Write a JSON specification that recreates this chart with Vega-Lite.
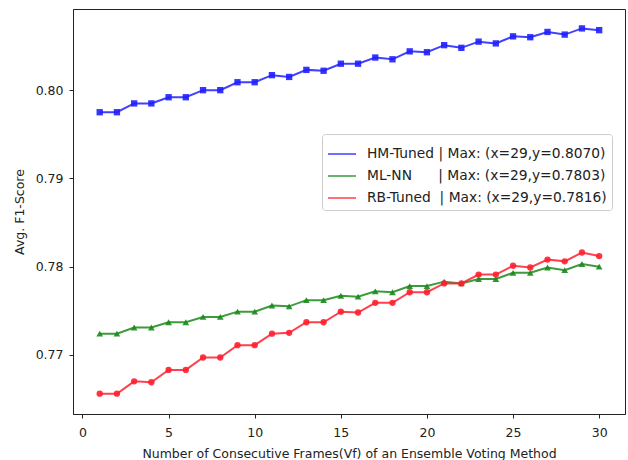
{
  "$schema": "https://vega.github.io/schema/vega-lite/v6.json",
  "width": 552,
  "height": 405,
  "autosize": "none",
  "padding": {"left": 73, "top": 9, "right": 3, "bottom": 46},
  "background": "white",
  "config": {
    "font": "DejaVu Sans",
    "view": {"stroke": "#222", "strokeWidth": 1},
    "axis": {
      "grid": false,
      "domainColor": "#222",
      "tickColor": "#222",
      "tickSize": 4,
      "labelColor": "#222",
      "titleColor": "#222",
      "labelFontSize": 12.5,
      "titleFontSize": 12.5,
      "titleFontWeight": "normal"
    }
  },
  "datasets": {
    "scores": [
      {"frames": 1, "series": "HM-Tuned", "f1": 0.7975},
      {"frames": 2, "series": "HM-Tuned", "f1": 0.7975},
      {"frames": 3, "series": "HM-Tuned", "f1": 0.7985},
      {"frames": 4, "series": "HM-Tuned", "f1": 0.7985},
      {"frames": 5, "series": "HM-Tuned", "f1": 0.7992},
      {"frames": 6, "series": "HM-Tuned", "f1": 0.7992},
      {"frames": 7, "series": "HM-Tuned", "f1": 0.8000},
      {"frames": 8, "series": "HM-Tuned", "f1": 0.8000},
      {"frames": 9, "series": "HM-Tuned", "f1": 0.8009},
      {"frames": 10, "series": "HM-Tuned", "f1": 0.8009},
      {"frames": 11, "series": "HM-Tuned", "f1": 0.8017},
      {"frames": 12, "series": "HM-Tuned", "f1": 0.8015},
      {"frames": 13, "series": "HM-Tuned", "f1": 0.8023},
      {"frames": 14, "series": "HM-Tuned", "f1": 0.8022},
      {"frames": 15, "series": "HM-Tuned", "f1": 0.8030},
      {"frames": 16, "series": "HM-Tuned", "f1": 0.8030},
      {"frames": 17, "series": "HM-Tuned", "f1": 0.8037},
      {"frames": 18, "series": "HM-Tuned", "f1": 0.8035},
      {"frames": 19, "series": "HM-Tuned", "f1": 0.8044},
      {"frames": 20, "series": "HM-Tuned", "f1": 0.8043},
      {"frames": 21, "series": "HM-Tuned", "f1": 0.8051},
      {"frames": 22, "series": "HM-Tuned", "f1": 0.8048},
      {"frames": 23, "series": "HM-Tuned", "f1": 0.8055},
      {"frames": 24, "series": "HM-Tuned", "f1": 0.8053},
      {"frames": 25, "series": "HM-Tuned", "f1": 0.8061},
      {"frames": 26, "series": "HM-Tuned", "f1": 0.8060},
      {"frames": 27, "series": "HM-Tuned", "f1": 0.8066},
      {"frames": 28, "series": "HM-Tuned", "f1": 0.8063},
      {"frames": 29, "series": "HM-Tuned", "f1": 0.8070},
      {"frames": 30, "series": "HM-Tuned", "f1": 0.8068},
      {"frames": 1, "series": "ML-NN", "f1": 0.7724},
      {"frames": 2, "series": "ML-NN", "f1": 0.7724},
      {"frames": 3, "series": "ML-NN", "f1": 0.7731},
      {"frames": 4, "series": "ML-NN", "f1": 0.7731},
      {"frames": 5, "series": "ML-NN", "f1": 0.7737},
      {"frames": 6, "series": "ML-NN", "f1": 0.7737},
      {"frames": 7, "series": "ML-NN", "f1": 0.7743},
      {"frames": 8, "series": "ML-NN", "f1": 0.7743},
      {"frames": 9, "series": "ML-NN", "f1": 0.7749},
      {"frames": 10, "series": "ML-NN", "f1": 0.7749},
      {"frames": 11, "series": "ML-NN", "f1": 0.7756},
      {"frames": 12, "series": "ML-NN", "f1": 0.7755},
      {"frames": 13, "series": "ML-NN", "f1": 0.7762},
      {"frames": 14, "series": "ML-NN", "f1": 0.7762},
      {"frames": 15, "series": "ML-NN", "f1": 0.7767},
      {"frames": 16, "series": "ML-NN", "f1": 0.7766},
      {"frames": 17, "series": "ML-NN", "f1": 0.7772},
      {"frames": 18, "series": "ML-NN", "f1": 0.7771},
      {"frames": 19, "series": "ML-NN", "f1": 0.7778},
      {"frames": 20, "series": "ML-NN", "f1": 0.7778},
      {"frames": 21, "series": "ML-NN", "f1": 0.7783},
      {"frames": 22, "series": "ML-NN", "f1": 0.7781},
      {"frames": 23, "series": "ML-NN", "f1": 0.7786},
      {"frames": 24, "series": "ML-NN", "f1": 0.7786},
      {"frames": 25, "series": "ML-NN", "f1": 0.7793},
      {"frames": 26, "series": "ML-NN", "f1": 0.7793},
      {"frames": 27, "series": "ML-NN", "f1": 0.7799},
      {"frames": 28, "series": "ML-NN", "f1": 0.7796},
      {"frames": 29, "series": "ML-NN", "f1": 0.7803},
      {"frames": 30, "series": "ML-NN", "f1": 0.7800},
      {"frames": 1, "series": "RB-Tuned", "f1": 0.7656},
      {"frames": 2, "series": "RB-Tuned", "f1": 0.7656},
      {"frames": 3, "series": "RB-Tuned", "f1": 0.7670},
      {"frames": 4, "series": "RB-Tuned", "f1": 0.7669},
      {"frames": 5, "series": "RB-Tuned", "f1": 0.7683},
      {"frames": 6, "series": "RB-Tuned", "f1": 0.7683},
      {"frames": 7, "series": "RB-Tuned", "f1": 0.7697},
      {"frames": 8, "series": "RB-Tuned", "f1": 0.7697},
      {"frames": 9, "series": "RB-Tuned", "f1": 0.7711},
      {"frames": 10, "series": "RB-Tuned", "f1": 0.7711},
      {"frames": 11, "series": "RB-Tuned", "f1": 0.7724},
      {"frames": 12, "series": "RB-Tuned", "f1": 0.7725},
      {"frames": 13, "series": "RB-Tuned", "f1": 0.7737},
      {"frames": 14, "series": "RB-Tuned", "f1": 0.7737},
      {"frames": 15, "series": "RB-Tuned", "f1": 0.7749},
      {"frames": 16, "series": "RB-Tuned", "f1": 0.7748},
      {"frames": 17, "series": "RB-Tuned", "f1": 0.7759},
      {"frames": 18, "series": "RB-Tuned", "f1": 0.7759},
      {"frames": 19, "series": "RB-Tuned", "f1": 0.7771},
      {"frames": 20, "series": "RB-Tuned", "f1": 0.7771},
      {"frames": 21, "series": "RB-Tuned", "f1": 0.7781},
      {"frames": 22, "series": "RB-Tuned", "f1": 0.7781},
      {"frames": 23, "series": "RB-Tuned", "f1": 0.7791},
      {"frames": 24, "series": "RB-Tuned", "f1": 0.7791},
      {"frames": 25, "series": "RB-Tuned", "f1": 0.7801},
      {"frames": 26, "series": "RB-Tuned", "f1": 0.7799},
      {"frames": 27, "series": "RB-Tuned", "f1": 0.7808},
      {"frames": 28, "series": "RB-Tuned", "f1": 0.7806},
      {"frames": 29, "series": "RB-Tuned", "f1": 0.7816},
      {"frames": 30, "series": "RB-Tuned", "f1": 0.7812}
    ]
  },
  "data": {"name": "scores"},
  "encoding": {
    "x": {
      "field": "frames",
      "type": "quantitative",
      "scale": {"domain": [-0.55, 31.5], "nice": false, "zero": false},
      "axis": {
        "values": [0, 5, 10, 15, 20, 25, 30],
        "title": "Number of Consecutive Frames(Vf) of an Ensemble Voting Method",
        "labelPadding": 8,
        "titlePadding": 9
      }
    },
    "y": {
      "field": "f1",
      "type": "quantitative",
      "scale": {"domain": [0.7633, 0.8092], "nice": false, "zero": false},
      "axis": {
        "values": [0.77, 0.78, 0.79, 0.80],
        "format": ".2f",
        "title": "Avg. F1-Score",
        "labelPadding": 6,
        "titlePadding": 9
      }
    }
  },
  "layer": [
    {
      "mark": {"type": "line", "strokeWidth": 2, "opacity": 0.85},
      "encoding": {
        "color": {
          "field": "series",
          "type": "nominal",
          "scale": {"domain": ["HM-Tuned", "ML-NN", "RB-Tuned"], "range": ["#1f1fff", "#1a8a1a", "#ff1f2f"]},
          "legend": {
            "orient": "none",
            "legendX": 249,
            "legendY": 125,
            "title": null,
            "symbolType": "stroke",
            "symbolSize": 784,
            "symbolStrokeWidth": 1.5,
            "labelFontSize": 13.8,
            "labelColor": "#222",
            "labelOffset": 10,
            "labelLimit": 400,
            "padding": 5,
            "rowPadding": -0.5,
            "fillColor": "white",
            "strokeColor": "#cccccc",
            "cornerRadius": 3,
            "labelExpr": "datum.label == 'HM-Tuned' ? 'HM-Tuned\u00a0| Max: (x=29,y=0.8070)' : datum.label == 'ML-NN' ? 'ML-NN\u00a0\u00a0\u00a0\u00a0\u00a0\u00a0| Max: (x=29,y=0.7803)' : 'RB-Tuned\u00a0\u00a0| Max: (x=29,y=0.7816)'"
          }
        }
      }
    },
    {
      "transform": [{"filter": "datum.series == 'HM-Tuned'"}],
      "mark": {"type": "point", "shape": "square", "filled": true, "opacity": 0.9, "size": 40, "color": "#1f1fff"}
    },
    {
      "transform": [{"filter": "datum.series == 'ML-NN'"}],
      "mark": {"type": "point", "shape": "triangle-up", "filled": true, "opacity": 0.9, "size": 45, "color": "#1a8a1a"}
    },
    {
      "transform": [{"filter": "datum.series == 'RB-Tuned'"}],
      "mark": {"type": "point", "shape": "circle", "filled": true, "opacity": 0.9, "size": 40, "color": "#ff1f2f"}
    }
  ]
}
